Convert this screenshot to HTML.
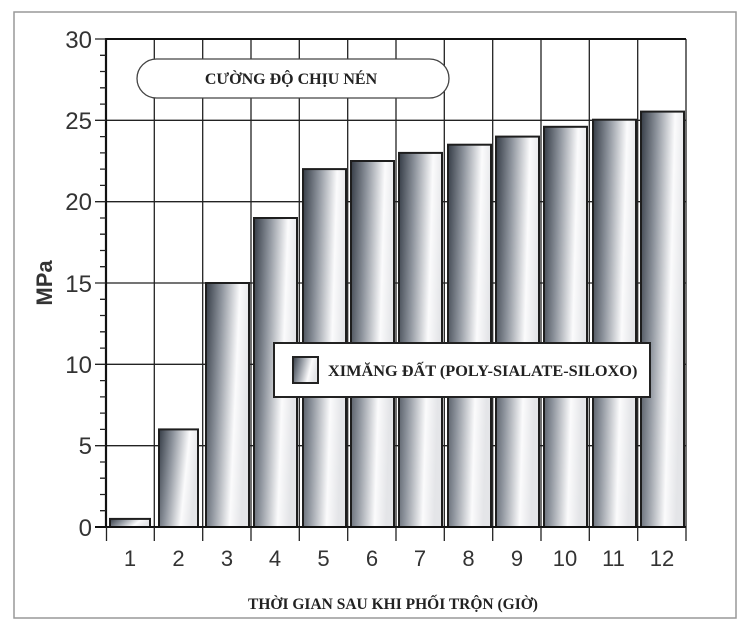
<!DOCTYPE html>
<html><head><meta charset="utf-8"><style>
body{margin:0;background:#fff;}
svg{display:block;}
.s{font-family:"Liberation Serif",serif;font-weight:bold;fill:#222;}
.a{font-family:"Liberation Sans",sans-serif;fill:#333;}
</style></head><body>
<svg width="750" height="629" viewBox="0 0 750 629">
<defs>
<linearGradient id="g" x1="0" y1="0" x2="1" y2="0.25">
<stop offset="0" stop-color="#353c46"/>
<stop offset="0.35" stop-color="#8d939c"/>
<stop offset="0.75" stop-color="#fbfbfc"/>
<stop offset="1" stop-color="#e4e5e8"/>
</linearGradient>
</defs>
<rect x="14" y="12" width="722" height="606" fill="#fff" stroke="#999" stroke-width="1.5"/>
<g stroke="#222" stroke-width="1.3">
<line x1="106" y1="120.3" x2="686" y2="120.3"/>
<line x1="106" y1="201.7" x2="686" y2="201.7"/>
<line x1="106" y1="283" x2="686" y2="283"/>
<line x1="106" y1="364.3" x2="686" y2="364.3"/>
<line x1="106" y1="445.7" x2="686" y2="445.7"/>
<line x1="154.3" y1="39" x2="154.3" y2="527"/>
<line x1="202.7" y1="39" x2="202.7" y2="527"/>
<line x1="251" y1="39" x2="251" y2="527"/>
<line x1="299.3" y1="39" x2="299.3" y2="527"/>
<line x1="347.7" y1="39" x2="347.7" y2="527"/>
<line x1="396" y1="39" x2="396" y2="527"/>
<line x1="444.3" y1="39" x2="444.3" y2="527"/>
<line x1="492.7" y1="39" x2="492.7" y2="527"/>
<line x1="541" y1="39" x2="541" y2="527"/>
<line x1="589.3" y1="39" x2="589.3" y2="527"/>
<line x1="637.7" y1="39" x2="637.7" y2="527"/>
<line x1="686" y1="39" x2="686" y2="527"/>
</g>
<g fill="url(#g)" stroke="#1e1e1e" stroke-width="2">
<rect x="110" y="518.9" width="40" height="8.1"/>
<rect x="159" y="429.4" width="39" height="97.6"/>
<rect x="206" y="283" width="43" height="244"/>
<rect x="254" y="218" width="43" height="309"/>
<rect x="303" y="169.1" width="43" height="357.9"/>
<rect x="351" y="161" width="43" height="366"/>
<rect x="399" y="152.9" width="43" height="374.1"/>
<rect x="448" y="144.7" width="43" height="382.3"/>
<rect x="496" y="136.6" width="43" height="390.4"/>
<rect x="544" y="126.8" width="43" height="400.2"/>
<rect x="593" y="119.7" width="43" height="407.3"/>
<rect x="641" y="111.6" width="43" height="415.4"/>
</g>
<line x1="106" y1="39" x2="686" y2="39" stroke="#111" stroke-width="2"/>
<line x1="106" y1="38" x2="106" y2="528" stroke="#111" stroke-width="2.2"/>
<line x1="95" y1="527" x2="686" y2="527" stroke="#111" stroke-width="2"/>
<g stroke="#222" stroke-width="1.3">
<path d="M95 39H106M95 120.3H106M95 201.7H106M95 283H106M95 364.3H106M95 445.7H106"/>
<path d="M100 55.3H106M100 71.5H106M100 87.8H106M100 104.1H106M100 136.6H106M100 152.9H106M100 169.1H106M100 185.4H106M100 218H106M100 234.2H106M100 250.5H106M100 266.7H106M100 299.3H106M100 315.5H106M100 331.8H106M100 348.1H106M100 380.6H106M100 396.9H106M100 413.1H106M100 429.4H106M100 462H106M100 478.2H106M100 494.5H106M100 510.7H106"/>
<path d="M106.5 527V541M154.3 527V541M202.7 527V541M251 527V541M299.3 527V541M347.7 527V541M396 527V541M444.3 527V541M492.7 527V541M541 527V541M589.3 527V541M637.7 527V541M686 527V541"/>
</g>
<g class="a" font-size="24" text-anchor="end">
<text x="92" y="48">30</text><text x="92" y="129">25</text><text x="92" y="210">20</text>
<text x="92" y="292">15</text><text x="92" y="373">10</text><text x="92" y="454">5</text><text x="92" y="536">0</text>
</g>
<g class="a" font-size="22" text-anchor="middle">
<text x="130" y="566">1</text><text x="178.5" y="566">2</text><text x="227" y="566">3</text><text x="275" y="566">4</text>
<text x="323.5" y="566">5</text><text x="372" y="566">6</text><text x="420" y="566">7</text><text x="468.5" y="566">8</text>
<text x="517" y="566">9</text><text x="565" y="566">10</text><text x="613.5" y="566">11</text><text x="662" y="566">12</text>
</g>
<text transform="translate(52,283) rotate(-90)" text-anchor="middle" font-family="Liberation Sans,sans-serif" font-weight="bold" font-size="22" fill="#333">MPa</text>
<text class="s" x="393" y="609" text-anchor="middle" font-size="15.5">THỜI GIAN SAU KHI PHỐI TRỘN (GIỜ)</text>
<rect x="137" y="59" width="312" height="39" rx="19.5" fill="#fff" stroke="#444" stroke-width="1.3"/>
<text class="s" x="291" y="84" text-anchor="middle" font-size="16">CƯỜNG ĐỘ CHỊU NÉN</text>
<rect x="274" y="343" width="376" height="54" fill="#fff" stroke="#222" stroke-width="2"/>
<rect x="293" y="357" width="25" height="26" fill="url(#g)" stroke="#222" stroke-width="2"/>
<text class="s" x="328" y="376" font-size="16.3">XIMĂNG ĐẤT (POLY-SIALATE-SILOXO)</text>
</svg>
</body></html>
